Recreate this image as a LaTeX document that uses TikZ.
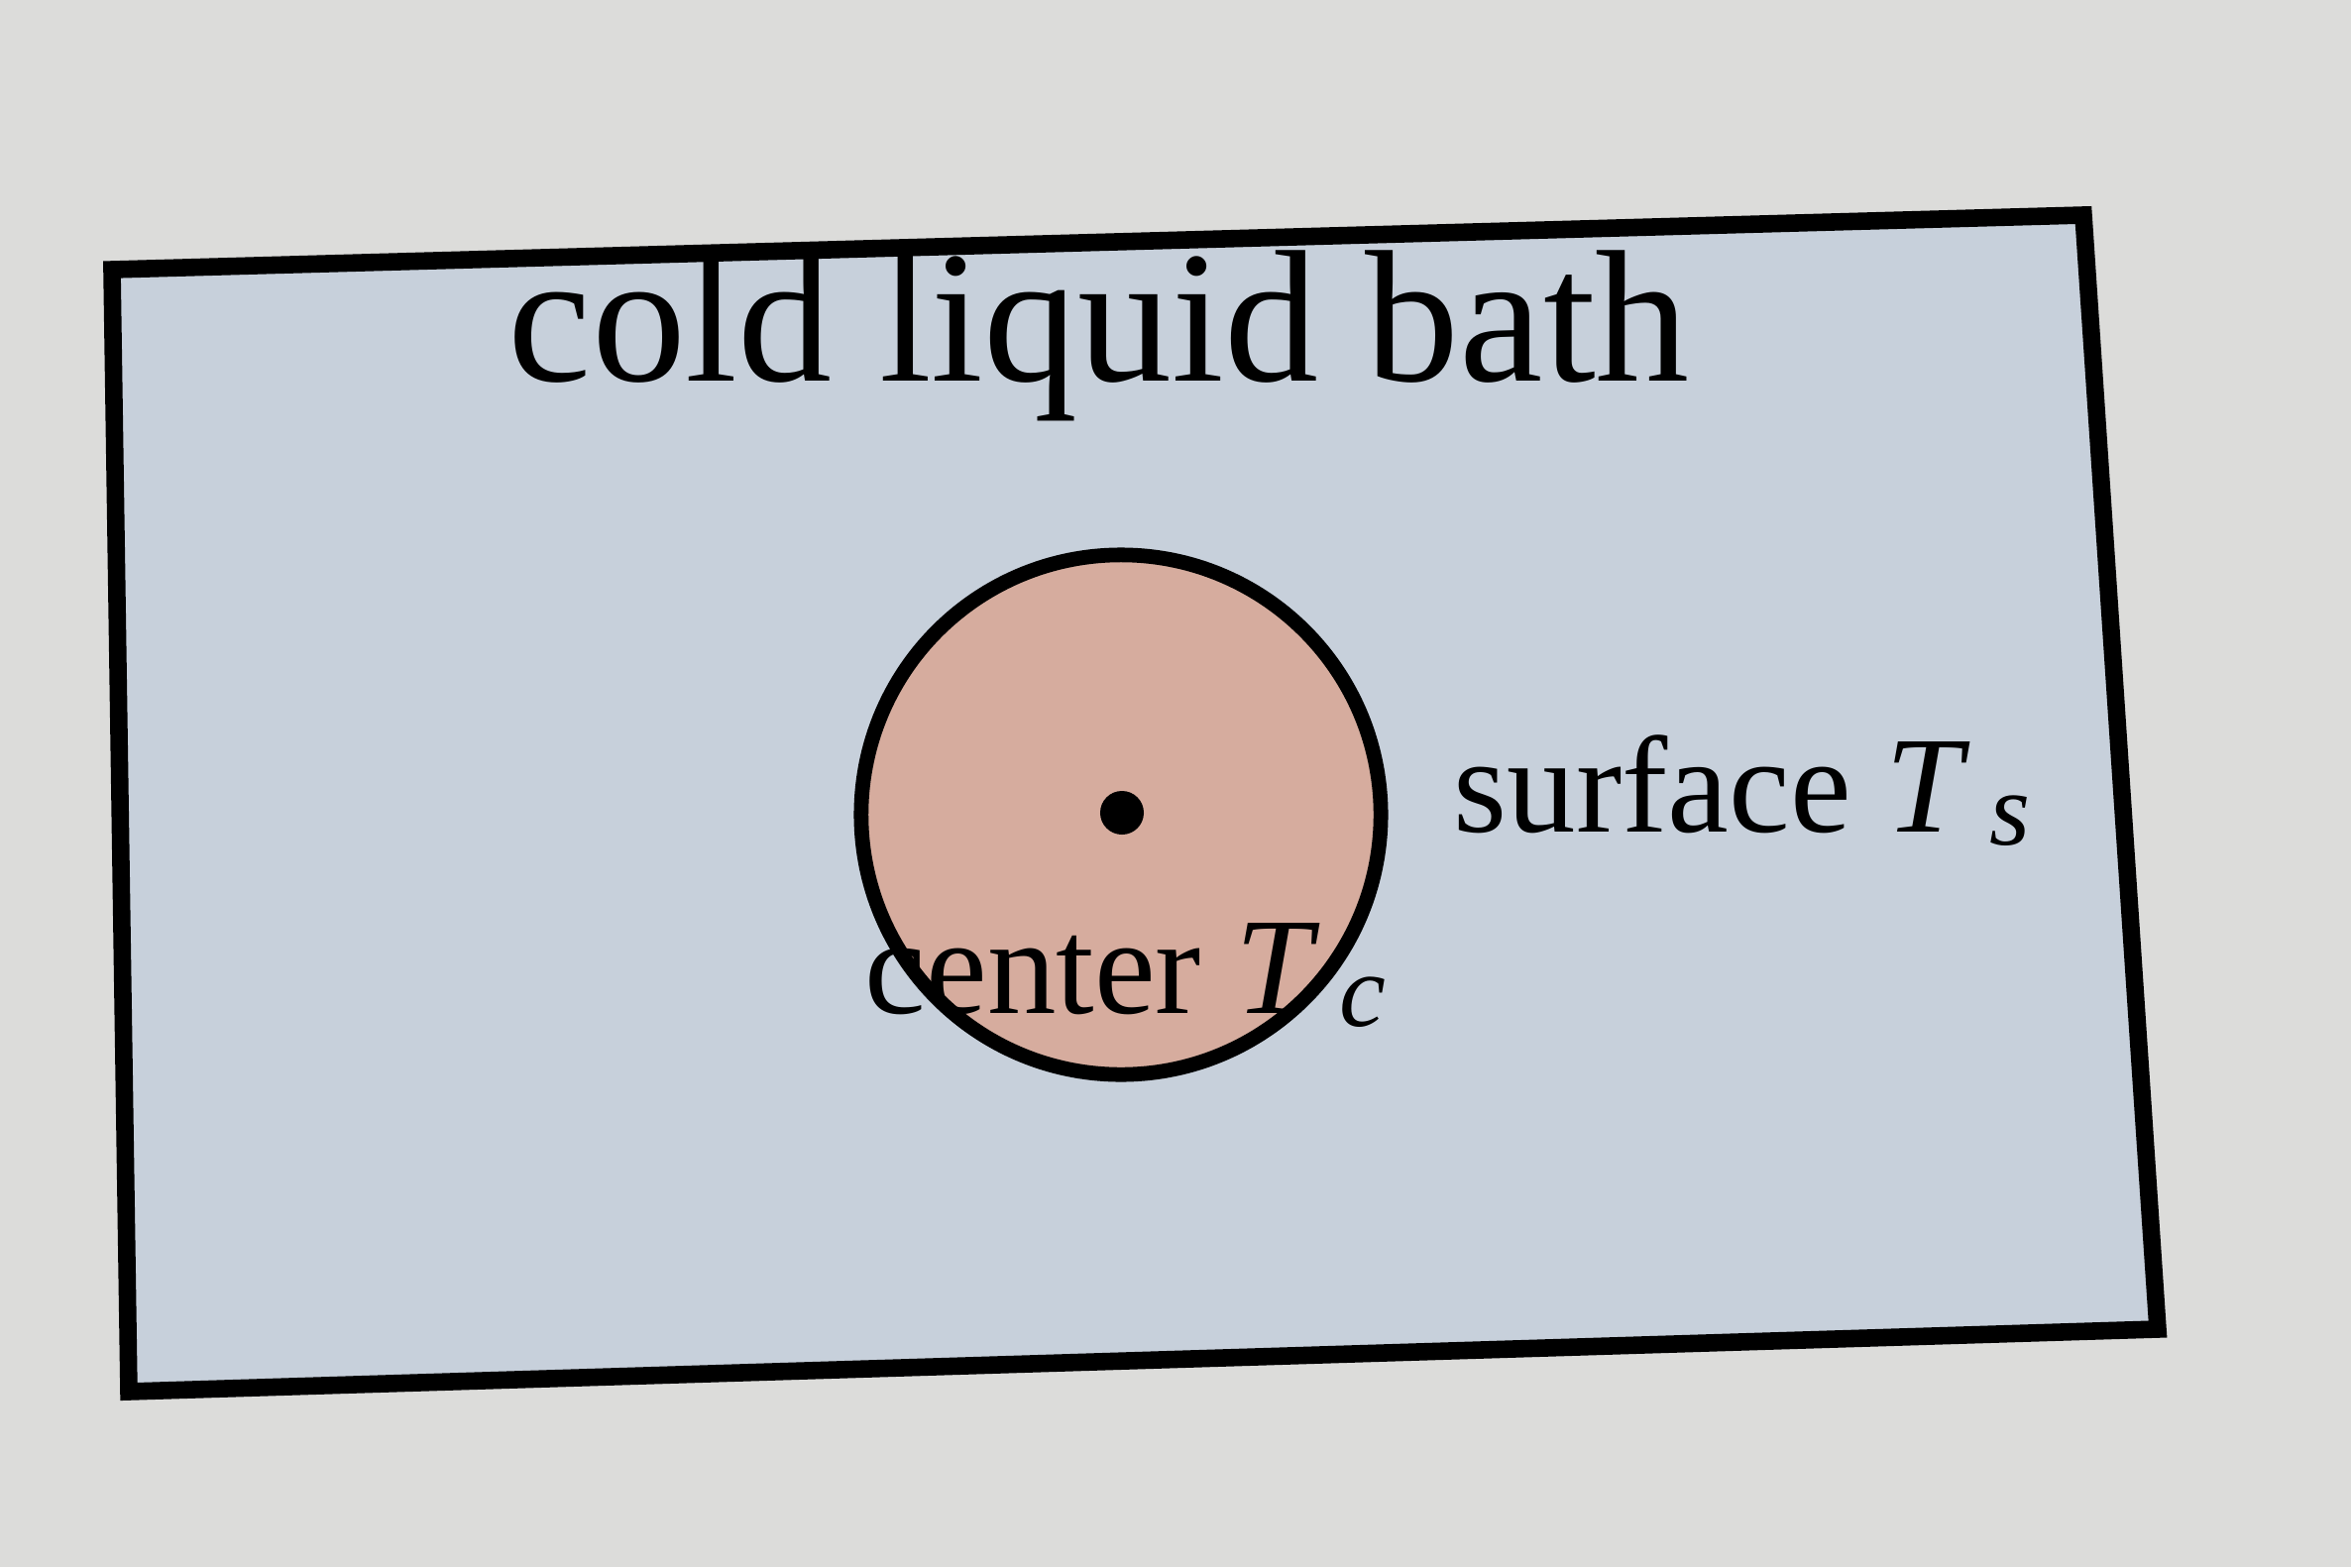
\documentclass[tikz,border=0pt]{standalone}
\usepackage{fontspec}
\setmainfont{Liberation Serif}
\definecolor{paper}{RGB}{220,220,218}
\definecolor{bathfill}{RGB}{199,208,219}
\definecolor{spherefill}{RGB}{214,172,158}
\tikzset{
  label text/.style={inner sep=0pt, anchor=base west, font=\fontsize{39.5pt}{44pt}\selectfont},
  title text/.style={inner sep=0pt, anchor=base west, font=\fontsize{54pt}{60pt}\selectfont},
  bath line/.style={line width=5pt, line join=miter},
  sphere line/.style={line width=4.2pt},
}
\newcommand{\subidx}[1]{\kern0.14em\raisebox{-0.1em}{\fontsize{30pt}{32pt}\selectfont\itshape #1}}
\begin{document}
\begin{tikzpicture}[x=0.01cm, y=-0.01cm]
  \fill[paper] (0,0) rectangle (2372,1581);
  \useasboundingbox (0,0) rectangle (2372,1581);
  % bath
  \coordinate (tl) at (113,272);
  \coordinate (tr) at (2102,217);
  \coordinate (br) at (2177,1341);
  \coordinate (bl) at (130,1404);
  \filldraw[bath line, fill=bathfill, draw=black] (tl) -- (tr) -- (br) -- (bl) -- cycle;
  % sphere
  \node[circle, sphere line, draw=black, fill=spherefill, minimum size=5.24cm, inner sep=0pt] (sphere) at (1131,822) {};
  \node[circle, fill=black, minimum size=0.44cm, inner sep=0pt] (centerdot) at (1132,820) {};
  % texts
  \node[title text] (title) at (512,384) {cold liquid bath};
  \node[label text] (surf) at (1466,839) {surface \textit{T}\subidx{s}};
  \node[label text] (cent) at (872,1022) {center \textit{T}\subidx{c}};
\end{tikzpicture}
\end{document}
